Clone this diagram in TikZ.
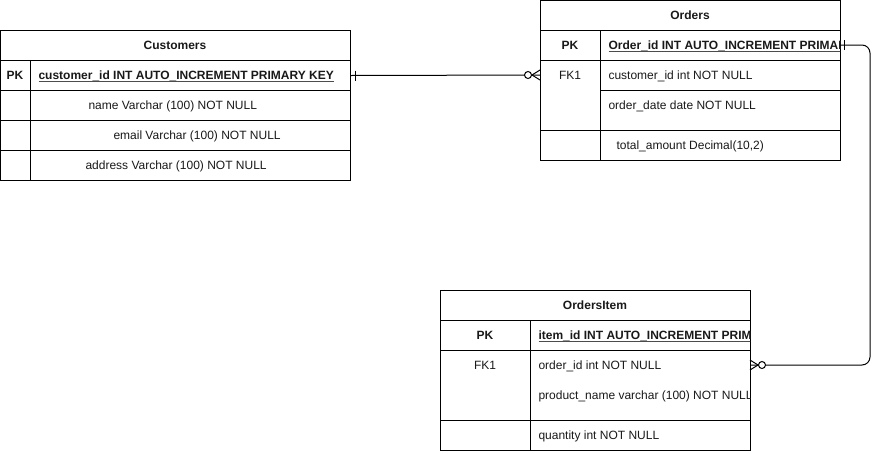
\documentclass[tikz,border=0pt]{standalone}
\usepackage{fontspec}
\setmainfont{Liberation Sans}
\newcommand{\ulrow}[1]{\setbox0\hbox{#1}\rlap{\color{black!70}\rule[-3pt]{\wd0}{1pt}}\box0}
\begin{document}
\begin{tikzpicture}[x=1pt,y=-1pt,line width=1pt,
  txt/.style={inner sep=0pt,font=\fontsize{12}{14}\selectfont,text height=8.6pt,text depth=0pt,text=black!90},
  ltxt/.style={txt,anchor=west},
  btxt/.style={txt,font=\fontsize{12}{14}\selectfont\bfseries},
  tablebox/.style={draw,inner sep=0pt,anchor=north west,minimum width=#1},
  rowbox/.style={inner sep=0pt,anchor=north west,minimum width=#1},
  link/.style={line width=1pt},
  ring/.style={draw,fill=white,circle,inner sep=0pt,minimum size=7pt,line width=1pt}]
\useasboundingbox (0,0) rectangle (881,453);

% ---------------- Customers ----------------
\node[tablebox=350pt,minimum height=150pt] (cust) at (0,30) {};
\node[rowbox=350pt,minimum height=30pt] (custpk) at (0,60) {};
\draw (0,60) -- (350,60);
\draw (0,90) -- (350,90);
\draw (0,120) -- (350,120);
\draw (0,150) -- (350,150);
\draw (30,60) -- (30,180);
\node[btxt] (custh) at (175,45) {Customers};
\node[btxt] (custpkk) at (15,75) {PK};
\node[ltxt,font=\fontsize{12}{14}\selectfont\bfseries] (custid) at (38,75) {\ulrow{customer\_id INT AUTO\_INCREMENT PRIMARY KEY}};
\node[ltxt] (custname) at (88,105) {name Varchar (100) NOT NULL};
\node[ltxt] (custemail) at (113,135) {email Varchar (100) NOT NULL};
\node[ltxt] (custaddr) at (85,165) {address Varchar (100) NOT NULL};

% ---------------- Orders ----------------
\node[tablebox=300pt,minimum height=160pt] (ord) at (540,0) {};
\node[rowbox=300pt,minimum height=30pt] (ordpk) at (540,30) {};
\node[rowbox=300pt,minimum height=30pt] (ordfk) at (540,60) {};
\draw (540,30) -- (840,30);
\draw (540,60) -- (840,60);
\draw (600,90) -- (840,90);
\draw (540,130) -- (840,130);
\draw (600,30) -- (600,160);
\node[btxt] (ordh) at (690,15) {Orders};
\node[btxt] (ordpkk) at (570,45) {PK};
\node[txt] (ordfkk) at (570,75) {FK1};
\begin{scope}
\clip (600,30) rectangle (840,60);
\node[ltxt,font=\fontsize{12}{14}\selectfont\bfseries] (ordid) at (608,45) {\ulrow{Order\_id INT AUTO\_INCREMENT PRIMARY KEY}};
\end{scope}
\node[ltxt] (ordcust) at (608,75) {customer\_id int NOT NULL};
\node[ltxt] (orddate) at (608,105) {order\_date date NOT NULL};
\node[ltxt] (ordtot) at (616,145) {total\_amount Decimal(10,2)};

% ---------------- OrdersItem ----------------
\node[tablebox=310pt,minimum height=160pt] (item) at (440,290) {};
\node[rowbox=310pt,minimum height=70pt] (itemfk) at (440,350) {};
\draw (440,320) -- (750,320);
\draw (440,350) -- (750,350);
\draw (440,420) -- (750,420);
\draw (530,320) -- (530,450);
\node[btxt] (itemh) at (595,305) {OrdersItem};
\node[btxt] (itempkk) at (485,335) {PK};
\node[txt] (itemfkk) at (485,365) {FK1};
\begin{scope}
\clip (530,320) rectangle (750,450);
\node[ltxt,font=\fontsize{12}{14}\selectfont\bfseries] (itemid) at (538,335) {\ulrow{item\_id INT AUTO\_INCREMENT PRIMARY KEY}};
\node[ltxt] (itemord) at (538,365) {order\_id int NOT NULL};
\node[ltxt] (itemprod) at (538,395) {product\_name varchar (100) NOT NULL};
\end{scope}
\node[ltxt] (itemqty) at (538,435) {quantity int NOT NULL};

% ---------------- Connectors ----------------
\coordinate (c1s) at (custpk.east);
\coordinate (c1e) at (540,75);
\draw[link] (c1s) -- (c1e);
\draw[link] ([xshift=4pt]c1s) ++(0,-5) -- ++(0,10);
\draw[link] ([xshift=-8pt]c1e) -- ([yshift=5pt]c1e);
\draw[link] ([xshift=-8pt]c1e) -- ([yshift=-5pt]c1e);
\node[ring] (r1) at ([xshift=-12pt]c1e) {};

\coordinate (c2s) at (840,45);
\coordinate (c2e) at (750,365);
\draw[link,rounded corners=8pt] (c2s) -- (870,45) -- (870,365) -- (c2e);
\draw[link] ([xshift=4pt]c2s) ++(0,-5) -- ++(0,10);
\draw[link] ([xshift=8pt]c2e) -- ([yshift=5pt]c2e);
\draw[link] ([xshift=8pt]c2e) -- ([yshift=-5pt]c2e);
\node[ring] (r2) at ([xshift=12pt]c2e) {};
\end{tikzpicture}
\end{document}
